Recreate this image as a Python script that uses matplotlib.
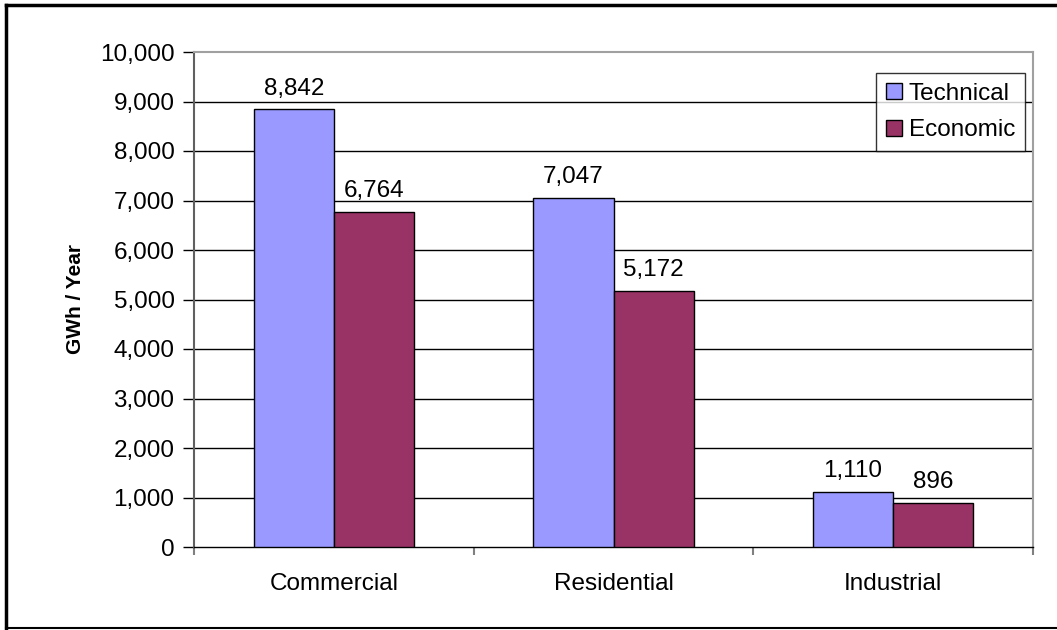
import matplotlib
matplotlib.use("Agg")
import matplotlib.pyplot as plt
from matplotlib.ticker import FuncFormatter, FixedLocator
import numpy as np

categories = ["Commercial", "Residential", "Industrial"]
technical = [8842, 7047, 1110]
economic = [6764, 5172, 896]
series_names = ["Technical", "Economic"]
y_ticks = [0, 1000, 2000, 3000, 4000, 5000, 6000, 7000, 8000, 9000, 10000]

plt.rcParams['font.family'] = ['Liberation Sans', 'DejaVu Sans']
FS = 17.5

fig = plt.figure(figsize=(10.57, 6.3), dpi=100)
ax = fig.add_axes([194/1057, 1-547/630, (1033-194)/1057, (547-52)/630])

x = np.arange(len(categories))
w = 0.287
b1 = ax.bar(x - w/2, technical, w, color="#9999FF", edgecolor="black", linewidth=1, label=series_names[0], zorder=3)
b2 = ax.bar(x + w/2, economic, w, color="#993366", edgecolor="black", linewidth=1, label=series_names[1], zorder=3)

for bars, vals in ((b1, technical), (b2, economic)):
    for r, v in zip(bars, vals):
        ax.annotate(f"{v:,}", (r.get_x() + r.get_width()/2, v), xytext=(0, 7),
                    textcoords="offset points", ha="center", va="bottom", fontsize=FS)

ax.set_xlim(-0.5, 2.5)
ax.set_ylim(0, 10000)
ax.set_yticks(y_ticks)
ax.yaxis.set_major_formatter(FuncFormatter(lambda v, p: f"{int(v):,}"))
for t in y_ticks[1:-1]:
    ax.axhline(t, color="black", linewidth=1, zorder=1)

ax.set_xticks(x)
ax.set_xticklabels(categories, fontsize=FS)
ax.xaxis.set_minor_locator(FixedLocator([-0.5, 0.5, 1.5, 2.5]))
ax.tick_params(axis="x", which="major", length=0, pad=19)
ax.tick_params(axis="x", which="minor", length=6, color="#808080", width=1.5)
ax.tick_params(axis="y", which="major", length=8, direction="out", labelsize=FS, width=1, pad=6)

for s in ("top", "right"):
    ax.spines[s].set_color("#A0A0A0")
    ax.spines[s].set_linewidth(1.5)
ax.spines["left"].set_color("#606060")
ax.spines["left"].set_linewidth(1.5)
ax.spines["bottom"].set_color("black")
ax.spines["bottom"].set_linewidth(1)

ax.set_ylabel("GWh / Year", fontsize=15, fontweight="bold", labelpad=11)

leg = ax.legend(loc="upper right", bbox_to_anchor=(1025/1057, 1-73/630), bbox_transform=fig.transFigure,
                fontsize=FS, frameon=True, fancybox=False, edgecolor="black",
                handlelength=0.65, handleheight=0.65, handletextpad=0.3, borderpad=0.4, labelspacing=0.6,
                borderaxespad=0)
leg.get_frame().set_linewidth(1)

# figure border
fig.add_artist(plt.Line2D([6/1057, 6/1057], [1-628/630, 1-5/630], color="black", linewidth=2.5, transform=fig.transFigure))
fig.add_artist(plt.Line2D([6/1057, 1], [1-5/630, 1-5/630], color="black", linewidth=2.5, transform=fig.transFigure))
fig.add_artist(plt.Line2D([6/1057, 1], [1-628/630, 1-628/630], color="black", linewidth=1.5, transform=fig.transFigure))

fig.savefig("out.png", dpi=100)
